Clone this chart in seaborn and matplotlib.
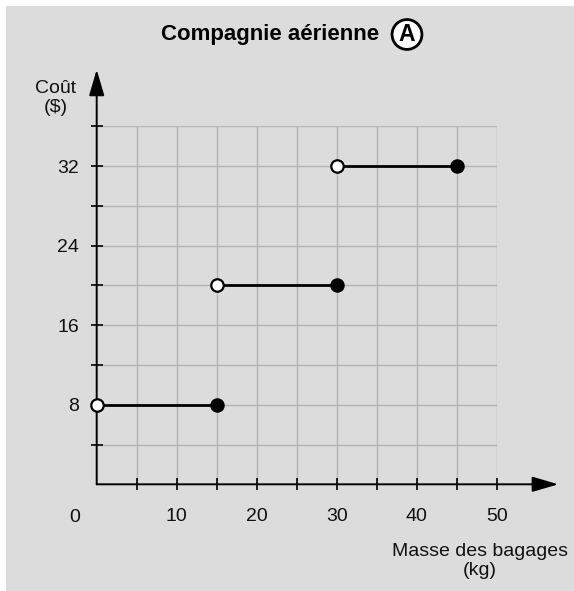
import matplotlib
matplotlib.use("Agg")
import matplotlib.pyplot as plt
import matplotlib.patches as mpatches
import pandas as pd
import seaborn as sns

# step function values
start_mass = [0, 15, 30]
end_mass = [15, 30, 45]
cost = [8, 20, 32]

x_ticks = [5, 10, 15, 20, 25, 30, 35, 40, 45, 50]
x_labels = ["", "10", "", "20", "", "30", "", "40", "", "50"]
y_ticks = [4, 8, 12, 16, 20, 24, 28, 32, 36]
y_labels = ["", "8", "", "16", "", "24", "", "32", ""]

title = "Compagnie aérienne"
x_title = "Masse des bagages\n(kg)"
y_title = "Coût\n($)"

bg = "#dcdcdc"
grid_col = "#b4b4b4"
ink = "#111111"

sns.set_theme(style="white")
plt.rcParams["font.family"] = ["Liberation Sans", "DejaVu Sans"]

W, H = 574, 591
fig = plt.figure(figsize=(W / 100, H / 100), dpi=100)
fig.patch.set_facecolor("white")
fig.patches.append(mpatches.Rectangle((6 / W, 0), 1, 1 - 6 / H, transform=fig.transFigure,
                                      facecolor=bg, edgecolor="none", zorder=-10))

# axes: x 0..50 -> px 96.7..496.7, y 0..36 -> px 484.3..126
ax = fig.add_axes([96.7 / W, (H - 484.3) / H, 400 / W, 358 / H])
ax.set_facecolor(bg)
ax.set_xlim(0, 50)
ax.set_ylim(0, 36)
for s in ax.spines.values():
    s.set_visible(False)

ax.set_xticks(x_ticks, x_labels)
ax.set_yticks(y_ticks, y_labels)
ax.grid(True, color=grid_col, lw=1)
ax.tick_params(direction="inout", length=9, width=1.2, color="black",
               labelsize=14, labelcolor=ink, bottom=True, left=True)
ax.tick_params(axis="x", pad=12.5)
ax.tick_params(axis="y", pad=8)
ax.set_axisbelow(True)

# axes with arrow heads
arrow = dict(arrowstyle="-|>,head_length=1.6,head_width=0.47", color="black",
             lw=1.4, shrinkA=0, shrinkB=0, mutation_scale=10)
ax.annotate("", xy=(57.7, 0), xytext=(0, 0), arrowprops=arrow, annotation_clip=False)
ax.annotate("", xy=(0, 41.7), xytext=(0, 0), arrowprops=arrow, annotation_clip=False)

# segments
seg = pd.DataFrame({
    "mass": start_mass + end_mass,
    "cost": cost + cost,
    "seg": list(range(len(cost))) * 2,
})
sns.lineplot(data=seg, x="mass", y="cost", units="seg", estimator=None,
             color="black", lw=2, ax=ax, zorder=3)

closed = pd.DataFrame({"mass": end_mass, "cost": cost})
opened = pd.DataFrame({"mass": start_mass, "cost": cost})
sns.scatterplot(data=closed, x="mass", y="cost", s=85, color="black",
                edgecolor="black", linewidth=1.2, ax=ax, zorder=4, clip_on=False)
sns.scatterplot(data=opened, x="mass", y="cost", s=80, color="white",
                edgecolor="black", linewidth=1.6, ax=ax, zorder=4, clip_on=False)
ax.set_xlabel("")
ax.set_ylabel("")

# origin label sits off the corner
fig.text(75 / W, 1 - 517 / H, "0", ha="center", va="center", fontsize=14, color=ink)

fig.text(270 / W, 1 - 34.5 / H, title, ha="center", va="center", fontsize=16,
         fontweight="bold", color="black")
fig.text(407 / W, 1 - 34.5 / H, "A", ha="center", va="center", fontsize=16.5,
         fontweight="bold", color="black",
         bbox=dict(boxstyle="circle,pad=0.15", fc="white", ec="black", lw=2))

fig.text(56 / W, 1 - 98 / H, y_title, ha="center", va="center", fontsize=14,
         color=ink, linespacing=1.1)
fig.text(479.5 / W, 1 - 561 / H, x_title, ha="center", va="center", fontsize=14,
         color=ink, linespacing=1.1)

fig.savefig("out.png", dpi=100, facecolor=fig.get_facecolor())
